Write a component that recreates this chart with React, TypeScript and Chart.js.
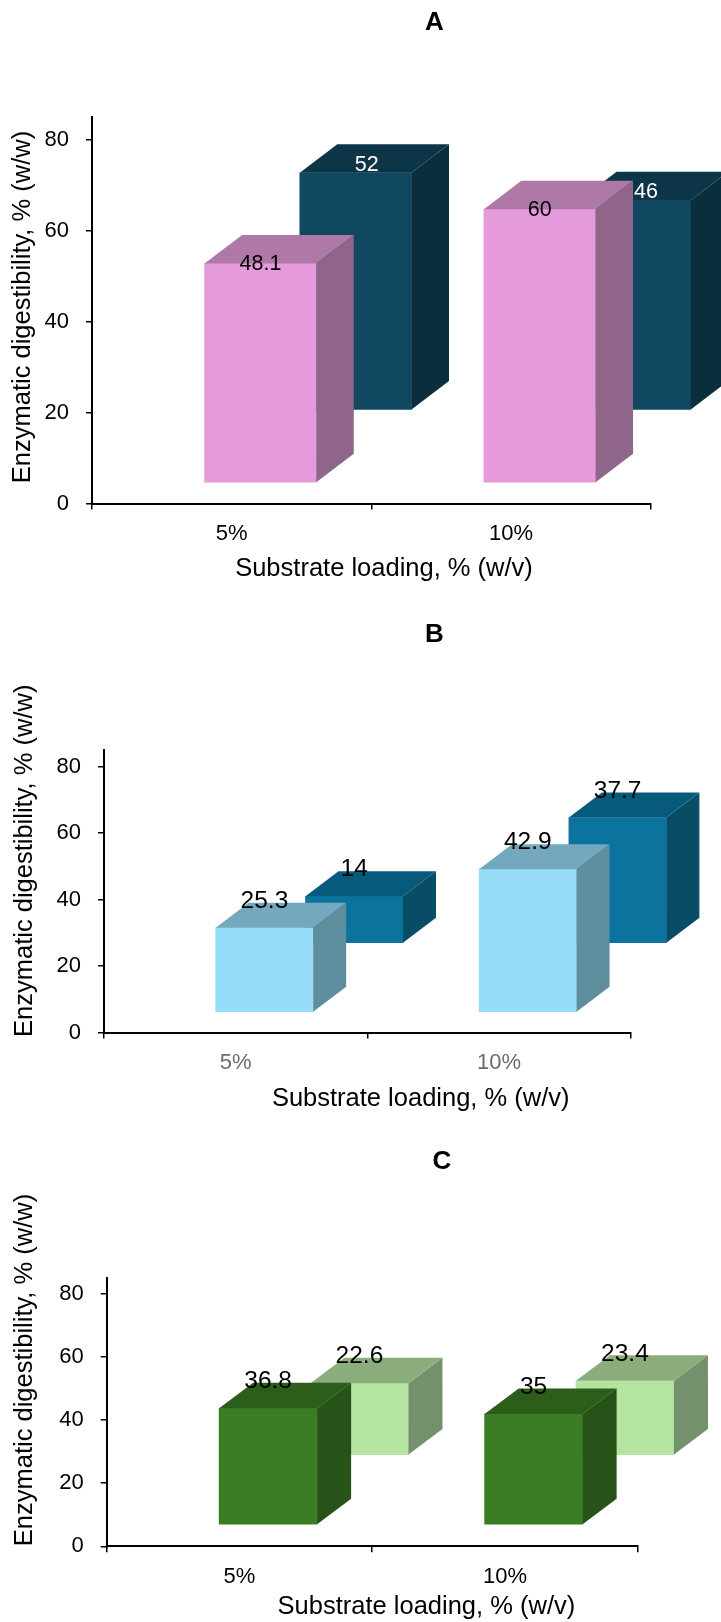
import React, { useEffect, useRef } from 'react';
import { Chart, registerables } from 'chart.js';

Chart.register(...registerables);

// Substrate loading categories shared by all three panels
const LOADINGS = ['5%', '10%'];
const Y_MIN = 0;
const Y_MAX = 85;
const Y_STEP = 20;

// Enzymatic digestibility values, % (w/w): front row and back row of each panel
const A_FRONT = [48.1, 60];
const A_BACK = [52, 46];
const B_FRONT = [25.3, 42.9];
const B_BACK = [14, 37.7];
const C_FRONT = [36.8, 35];
const C_BACK = [22.6, 23.4];

const X_TITLE = 'Substrate loading, % (w/v)';
const Y_TITLE = 'Enzymatic digestibility, % (w/w)';

const FAMILY = "'Liberation Sans', Arial, sans-serif";
const CANVAS_W = 721;

type Shade = { face: string; top: string; side: string };
type PanelStyle = {
  letter: string;
  front: number[];
  back: number[];
  top: number;
  height: number;
  area: { left: number; right: number; top: number; bottom: number };
  shift: [number, number]; // horizontal offset of each row, in category widths
  lift: [number, number]; // perspective lift of each row's floor, in value units
  barW: number;
  depth: [number, number];
  shades: [Shade, Shade];
  valueFont: number;
  valueColors: [string, string];
  valueOffset: [[number, number], [number, number]];
  catColor: string;
  letterPos: [number, number];
  xTitlePos: [number, number];
  yTitlePos: [number, number];
};

const PANELS: PanelStyle[] = [
  {
    letter: 'A', front: A_FRONT, back: A_BACK,
    top: 0, height: 600,
    area: { left: 92, right: 650.6, top: 116.9, bottom: 503.6 },
    shift: [0.103, 0.444], lift: [4.7, 20.7], barW: 111.7, depth: [37.5, 28.5],
    shades: [
      { face: '#E59BDB', top: '#AE78A7', side: '#8F6689' },
      { face: '#114861', top: '#0D3548', side: '#0B2E3E' },
    ],
    valueFont: 21.5, valueColors: ['#000000', '#ffffff'], valueOffset: [[0, -1], [11, 8]],
    catColor: '#000000', letterPos: [434.5, 23], xTitlePos: [384, 569.3], yTitlePos: [23, 307],
  },
  {
    letter: 'B', front: B_FRONT, back: B_BACK,
    top: 600, height: 520,
    area: { left: 104, right: 630.8, top: 150, bottom: 432.5 },
    shift: [0.109, 0.45], lift: [6.25, 27.0], barW: 97.5, depth: [33, 25],
    shades: [
      { face: '#97DDF8', top: '#74A8BE', side: '#5F8E9F' },
      { face: '#0B739E', top: '#085A7C', side: '#084C66' },
    ],
    valueFont: 24.5, valueColors: ['#000000', '#000000'], valueOffset: [[0, 26.5], [0, 26.5]],
    catColor: '#6b6b6b', letterPos: [434.5, 35], xTitlePos: [420.7, 499], yTitlePos: [25, 260.8],
  },
  {
    letter: 'C', front: C_FRONT, back: C_BACK,
    top: 1120, height: 502,
    area: { left: 106.7, right: 637.7, top: 158.3, bottom: 426.3 },
    shift: [0.108, 0.452], lift: [7.0, 29.1], barW: 98, depth: [34, 25.5],
    shades: [
      { face: '#3A7D22', top: '#2C5D1A', side: '#275218' },
      { face: '#B5E4A0', top: '#8BAD7C', side: '#73916A' },
    ],
    valueFont: 24.5, valueColors: ['#000000', '#000000'], valueOffset: [[0, 27], [0, 27]],
    catColor: '#000000', letterPos: [442, 41.7], xTitlePos: [426.4, 487.3], yTitlePos: [25, 250],
  },
];

// Draws the top and right faces of every bar, the value labels and the titles
function makeDecorPlugin(p: PanelStyle) {
  return {
    id: 'decor' + p.letter,
    afterDatasetDraw(chart: any, args: any) {
      const ctx = chart.ctx;
      const shade = p.shades[args.index];
      const [dx, dy] = p.depth;
      const meta = chart.getDatasetMeta(args.index);
      ctx.save();
      meta.data.forEach((bar: any) => {
        const { x, y, base, width } = bar.getProps(['x', 'y', 'base', 'width'], true);
        const l = x - width / 2;
        const r = x + width / 2;
        ctx.fillStyle = shade.side;
        ctx.beginPath();
        ctx.moveTo(r, y);
        ctx.lineTo(r + dx, y - dy);
        ctx.lineTo(r + dx, base - dy);
        ctx.lineTo(r, base);
        ctx.closePath();
        ctx.fill();
        ctx.fillStyle = shade.top;
        ctx.beginPath();
        ctx.moveTo(l, y);
        ctx.lineTo(r, y);
        ctx.lineTo(r + dx, y - dy);
        ctx.lineTo(l + dx, y - dy);
        ctx.closePath();
        ctx.fill();
      });
      ctx.restore();
    },
    afterDatasetsDraw(chart: any) {
      const ctx = chart.ctx;
      ctx.save();
      ctx.font = `${p.valueFont}px ${FAMILY}`;
      ctx.textAlign = 'center';
      ctx.textBaseline = 'middle';
      [1, 0].forEach((di) => {
        const meta = chart.getDatasetMeta(di);
        const values = di === 0 ? p.front : p.back;
        const [ox, oy] = p.valueOffset[di];
        ctx.fillStyle = p.valueColors[di];
        meta.data.forEach((bar: any, i: number) => {
          const { x, y } = bar.getProps(['x', 'y'], true);
          ctx.fillText(String(values[i]), x + ox, y - oy);
        });
      });
      ctx.restore();
    },
    afterDraw(chart: any) {
      const ctx = chart.ctx;
      ctx.save();
      ctx.fillStyle = '#000000';
      ctx.textAlign = 'center';
      ctx.textBaseline = 'middle';
      ctx.font = `bold 26px ${FAMILY}`;
      ctx.fillText(p.letter, p.letterPos[0], p.letterPos[1]);
      ctx.font = `25.5px ${FAMILY}`;
      ctx.fillText(X_TITLE, p.xTitlePos[0], p.xTitlePos[1]);
      ctx.translate(p.yTitlePos[0], p.yTitlePos[1]);
      ctx.rotate(-Math.PI / 2);
      ctx.fillText(Y_TITLE, 0, 0);
      ctx.restore();
    },
  };
}

function buildConfig(p: PanelStyle): any {
  const rows = [p.front, p.back];
  const datasets = rows.map((vals, di) => ({
    label: di === 0 ? 'front' : 'back',
    data: vals.map((v, i) => ({ x: i, y: v })),
    xAxisID: di === 0 ? 'xf' : 'xb',
    yAxisID: di === 0 ? 'yf' : 'yb',
    backgroundColor: p.shades[di].face,
    borderWidth: 0,
    barThickness: p.barW,
    grouped: false,
    clip: false,
  }));
  const hiddenX = (u: number) => ({
    type: 'linear', display: false, offset: false,
    min: -0.5 - u, max: 1.5 - u,
    grid: { offset: false },
  });
  const hiddenY = (lift: number) => ({
    type: 'linear', display: false, min: Y_MIN - lift, max: Y_MAX - lift,
  });
  return {
    type: 'bar',
    data: { labels: LOADINGS, datasets },
    options: {
      responsive: false,
      maintainAspectRatio: false,
      animation: false,
      events: [],
      layout: {
        padding: { left: 0, top: p.area.top, right: CANVAS_W - p.area.right, bottom: 0 },
      },
      plugins: { legend: { display: false }, tooltip: { enabled: false }, title: { display: false } },
      scales: {
        x: {
          type: 'category',
          position: 'bottom',
          offset: true,
          grid: { display: true, offset: true, drawOnChartArea: false, drawTicks: true, tickLength: 6, color: '#000000', lineWidth: 1.5 },
          border: { display: true, color: '#000000', width: 2 },
          ticks: { color: p.catColor, font: { size: 22, family: FAMILY }, padding: 11.2, maxRotation: 0 },
          afterFit: (s: any) => { s.height = p.height - p.area.bottom; },
        },
        y: {
          type: 'linear',
          position: 'left',
          min: Y_MIN,
          max: Y_MAX,
          grid: { display: true, drawOnChartArea: false, drawTicks: true, tickLength: 6, color: '#000000', lineWidth: 1.5 },
          border: { display: true, color: '#000000', width: 2 },
          ticks: { stepSize: Y_STEP, includeBounds: false, color: '#000000', font: { size: 22, family: FAMILY }, padding: 17 },
          afterFit: (s: any) => { s.width = p.area.left; },
        },
        xf: hiddenX(p.shift[0]),
        xb: hiddenX(p.shift[1]),
        yf: hiddenY(p.lift[0]),
        yb: hiddenY(p.lift[1]),
      },
    },
    plugins: [makeDecorPlugin(p)],
  };
}

function Panel({ p }: { p: PanelStyle }) {
  const ref = useRef<HTMLCanvasElement>(null);
  useEffect(() => {
    const chart = new Chart(ref.current as HTMLCanvasElement, buildConfig(p));
    return () => chart.destroy();
  }, [p]);
  return (
    <canvas
      ref={ref}
      width={CANVAS_W}
      height={p.height}
      style={{ position: 'absolute', left: 0, top: p.top, width: CANVAS_W, height: p.height }}
    />
  );
}

export default function App() {
  return (
    <div style={{ position: 'absolute', left: 0, top: 0, width: CANVAS_W, height: 1622, background: '#ffffff' }}>
      {PANELS.map((p) => (
        <Panel key={p.letter} p={p} />
      ))}
    </div>
  );
}
